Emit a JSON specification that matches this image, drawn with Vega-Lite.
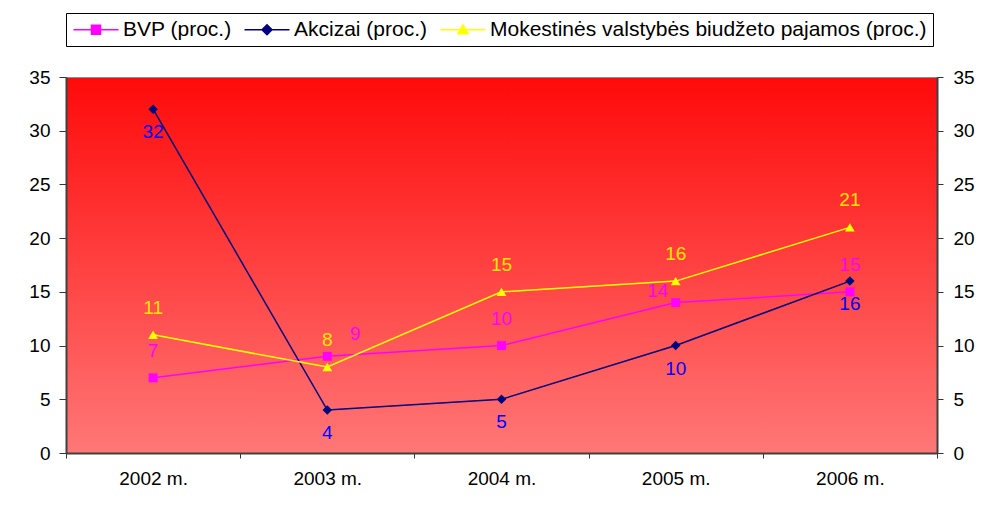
{
  "$schema": "https://vega.github.io/schema/vega-lite/v6.json",
  "width": 871,
  "height": 376,
  "autosize": {"type": "none"},
  "padding": {"left": 66, "top": 77, "right": 47, "bottom": 52},
  "background": "white",
  "config": {
    "font": "Liberation Sans",
    "view": {
      "stroke": "#8c8c8c",
      "strokeWidth": 1,
      "fill": {
        "gradient": "linear",
        "x1": 0, "y1": 0, "x2": 0, "y2": 1,
        "stops": [
          {"offset": 0, "color": "#ff0a0a"},
          {"offset": 1, "color": "#ff7777"}
        ]
      }
    },
    "axis": {
      "labelFont": "Liberation Sans",
      "labelColor": "#000000",
      "domainColor": "#404040",
      "domainWidth": 2,
      "tickColor": "#333333",
      "tickWidth": 1,
      "grid": false,
      "title": null
    }
  },
  "data": {
    "values": [
      {"year": "2002 m.", "series": "BVP (proc.)", "value": 7},
      {"year": "2003 m.", "series": "BVP (proc.)", "value": 9},
      {"year": "2004 m.", "series": "BVP (proc.)", "value": 10},
      {"year": "2005 m.", "series": "BVP (proc.)", "value": 14},
      {"year": "2006 m.", "series": "BVP (proc.)", "value": 15},
      {"year": "2002 m.", "series": "Akcizai (proc.)", "value": 32},
      {"year": "2003 m.", "series": "Akcizai (proc.)", "value": 4},
      {"year": "2004 m.", "series": "Akcizai (proc.)", "value": 5},
      {"year": "2005 m.", "series": "Akcizai (proc.)", "value": 10},
      {"year": "2006 m.", "series": "Akcizai (proc.)", "value": 16},
      {"year": "2002 m.", "series": "Mokestinės valstybės biudžeto pajamos (proc.)", "value": 11},
      {"year": "2003 m.", "series": "Mokestinės valstybės biudžeto pajamos (proc.)", "value": 8},
      {"year": "2004 m.", "series": "Mokestinės valstybės biudžeto pajamos (proc.)", "value": 15},
      {"year": "2005 m.", "series": "Mokestinės valstybės biudžeto pajamos (proc.)", "value": 16},
      {"year": "2006 m.", "series": "Mokestinės valstybės biudžeto pajamos (proc.)", "value": 21}
    ]
  },
  "resolve": {"axis": {"y": "independent"}},
  "layer": [
    {
      "mark": {"type": "line", "strokeWidth": 1.5},
      "encoding": {
        "x": {
          "field": "year", "type": "ordinal",
          "scale": {"type": "band", "paddingInner": 0, "paddingOuter": 0},
          "axis": {"labelAngle": 0, "labelFontSize": 19, "tickBand": "extent", "tickSize": 5, "labelPadding": 11}
        },
        "y": {
          "field": "value", "type": "quantitative",
          "scale": {"domain": [0, 35], "nice": false},
          "axis": {"orient": "left", "values": [0, 5, 10, 15, 20, 25, 30, 35], "labelFontSize": 19, "tickSize": 7, "labelPadding": 9}
        },
        "color": {
          "field": "series", "type": "nominal",
          "scale": {
            "domain": ["BVP (proc.)", "Akcizai (proc.)", "Mokestinės valstybės biudžeto pajamos (proc.)"],
            "range": ["#ff00ff", "#000080", "#ffff00"]
          },
          "legend": {
            "orient": "none",
            "direction": "horizontal",
            "legendX": 0,
            "legendY": -64,
            "title": null,
            "padding": 6,
            "strokeColor": "#000000",
            "fillColor": "#ffffff",
            "labelFont": "Liberation Sans",
            "labelFontSize": 21,
            "labelColor": "#000000",
            "labelLimit": 1000,
            "symbolSize": 100,
            "symbolOffset": 13.5,
            "labelOffset": 16.5,
            "columnPadding": 9,
            "encode": {
              "symbols": {
                "update": {
                  "shape": {"signal": "datum.value === 'BVP (proc.)' ? 'M-4.5,0H4.5M-0.9,-0.9H0.9V0.9H-0.9Z' : datum.value === 'Akcizai (proc.)' ? 'M-4.5,0H4.5M0,-1L1,0L0,1L-1,0Z' : 'M-4.5,0H4.5M0,-1L1,0.8H-1Z'"},
                  "fill": {"signal": "scale('color', datum.value)"},
                  "stroke": {"signal": "scale('color', datum.value)"},
                  "strokeWidth": {"value": 1.5},
                  "opacity": {"value": 1},
                  "size": {"value": 100}
                }
              }
            }
          }
        }
      }
    },
    {
      "transform": [{"filter": "datum.series === 'BVP (proc.)'"}],
      "mark": {"type": "point", "filled": true, "size": 80, "opacity": 1, "shape": "square", "color": "#ff00ff"},
      "encoding": {
        "x": {"field": "year", "type": "ordinal"},
        "y": {
          "field": "value", "type": "quantitative",
          "axis": {"orient": "right", "values": [0, 5, 10, 15, 20, 25, 30, 35], "labelFontSize": 19, "tickSize": 6, "labelPadding": 10}
        }
      }
    },
    {
      "transform": [{"filter": "datum.series === 'Akcizai (proc.)'"}],
      "mark": {"type": "point", "filled": true, "size": 90, "opacity": 1, "shape": "diamond", "color": "#000080"},
      "encoding": {
        "x": {"field": "year", "type": "ordinal"},
        "y": {"field": "value", "type": "quantitative", "axis": null}
      }
    },
    {
      "transform": [{"filter": "datum.series === 'Mokestinės valstybės biudžeto pajamos (proc.)'"}],
      "mark": {"type": "point", "filled": true, "size": 95, "opacity": 1, "shape": "triangle-up", "color": "#ffff00"},
      "encoding": {
        "x": {"field": "year", "type": "ordinal"},
        "y": {"field": "value", "type": "quantitative", "axis": null}
      }
    },
    {
      "transform": [{"filter": "datum.series === 'BVP (proc.)' && datum.year !== '2003 m.' && datum.year !== '2005 m.'"}],
      "mark": {"type": "text", "fontSize": 19, "color": "#ff00ff", "dy": -27},
      "encoding": {
        "x": {"field": "year", "type": "ordinal"},
        "y": {"field": "value", "type": "quantitative", "axis": null},
        "text": {"field": "value", "type": "quantitative"}
      }
    },
    {
      "transform": [{"filter": "datum.series === 'BVP (proc.)' && datum.year === '2003 m.'"}],
      "mark": {"type": "text", "fontSize": 19, "color": "#ff00ff", "dx": 28, "dy": -22},
      "encoding": {
        "x": {"field": "year", "type": "ordinal"},
        "y": {"field": "value", "type": "quantitative", "axis": null},
        "text": {"field": "value", "type": "quantitative"}
      }
    },
    {
      "transform": [{"filter": "datum.series === 'BVP (proc.)' && datum.year === '2005 m.'"}],
      "mark": {"type": "text", "fontSize": 19, "color": "#ff00ff", "dx": -18, "dy": -12},
      "encoding": {
        "x": {"field": "year", "type": "ordinal"},
        "y": {"field": "value", "type": "quantitative", "axis": null},
        "text": {"field": "value", "type": "quantitative"}
      }
    },
    {
      "transform": [{"filter": "datum.series === 'Akcizai (proc.)'"}],
      "mark": {"type": "text", "fontSize": 19, "color": "#0000ff", "dy": 23},
      "encoding": {
        "x": {"field": "year", "type": "ordinal"},
        "y": {"field": "value", "type": "quantitative", "axis": null},
        "text": {"field": "value", "type": "quantitative"}
      }
    },
    {
      "transform": [{"filter": "datum.series === 'Mokestinės valstybės biudžeto pajamos (proc.)'"}],
      "mark": {"type": "text", "fontSize": 19, "color": "#ffe600", "dy": -27},
      "encoding": {
        "x": {"field": "year", "type": "ordinal"},
        "y": {"field": "value", "type": "quantitative", "axis": null},
        "text": {"field": "value", "type": "quantitative"}
      }
    }
  ]
}
